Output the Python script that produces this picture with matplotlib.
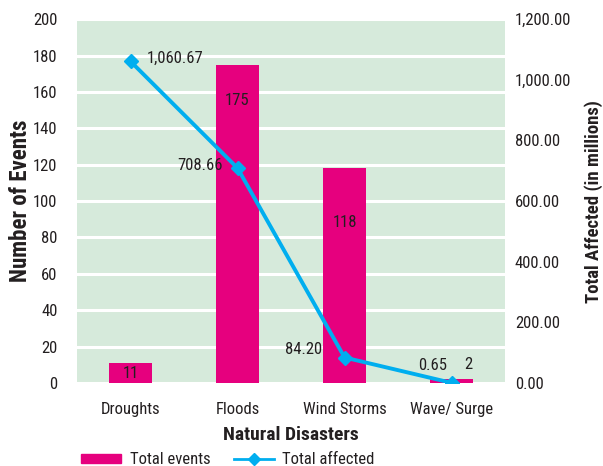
import matplotlib
matplotlib.use("Agg")
import matplotlib.pyplot as plt
from matplotlib.lines import Line2D
from matplotlib.patches import Patch
import matplotlib.font_manager as fm

names = {f.name for f in fm.fontManager.ttflist}
fam = "Roboto"
for cand in ["Roboto Condensed", "Open Sans Condensed", "Liberation Sans Narrow", "Roboto"]:
    if cand in names:
        fam = cand
        break
plt.rcParams['font.family'] = [fam, 'DejaVu Sans']

categories = ["Droughts", "Floods", "Wind Storms", "Wave/ Surge"]
total_events = [11, 175, 118, 2]
total_affected = [1060.67, 708.66, 84.20, 0.65]
left_ticks = list(range(0, 201, 20))
right_ticks = [0, 200, 400, 600, 800, 1000, 1200]

bar_color = "#e6007e"
line_color = "#00aeef"
bg = "#d6eadb"
txt = "#231f20"

fig = plt.figure(figsize=(6.03, 4.66), dpi=100)
ax = fig.add_axes([0.1277, 0.178, 0.71, 0.781])
ax.set_facecolor(bg)
x = [i + 0.5 for i in range(len(categories))]
ax.set_xlim(0, 4)
ax.set_ylim(0, 200)
ax.set_yticks(left_ticks)
ax.grid(axis='y', color='white', linewidth=2.2)
ax.set_axisbelow(True)
ax.bar(x, total_events, width=0.4, color=bar_color, zorder=2)
for s in ax.spines.values():
    s.set_visible(False)
ax.tick_params(length=0, labelsize=12, colors=txt, pad=14)
ax.tick_params(axis='x', pad=14)
ax.set_xticks(x)
ax.set_xticklabels(categories)
ax.set_ylabel("Number of Events", fontsize=16.5, fontweight='bold', color=txt, labelpad=1)
ax.set_xlabel("Natural Disasters", fontsize=14, fontweight='bold', color=txt, labelpad=6)

# bar labels
ax.text(x[0], total_events[0] / 2, "11", ha='center', va='center', fontsize=12, color=txt, zorder=5)
ax.text(x[1], total_events[1] - 19.5, "175", ha='center', va='center', fontsize=12, color=txt, zorder=5)
ax.text(x[2], total_events[2] - 29.5, "118", ha='center', va='center', fontsize=12, color=txt, zorder=5)
ax.text(x[3] + 0.12, 10, "2", ha='left', va='center', fontsize=12, color=txt, zorder=5)

ax2 = ax.twinx()
ax2.set_ylim(0, 1200)
ax2.set_yticks(right_ticks)
ax2.set_yticklabels([f"{v:,.2f}" for v in right_ticks])
for s in ax2.spines.values():
    s.set_visible(False)
ax2.tick_params(length=0, labelsize=12, colors=txt, pad=7)
ax2.plot(x, total_affected, color=line_color, linewidth=2.8, marker='D', markersize=7.5, zorder=3)
ax2.set_ylabel("Total Affected (in millions)", fontsize=13.5, fontweight='bold', color=txt, labelpad=9)

ax2.text(x[0] + 0.15, total_affected[0] + 10, "1,060.67", ha='left', va='center', fontsize=12, color=txt)
ax2.text(x[1] - 0.14, total_affected[1] + 10, "708.66", ha='right', va='center', fontsize=12, color=txt)
ax2.text(x[2] - 0.21, total_affected[2] + 25, "84.20", ha='right', va='center', fontsize=12, color=txt)
ax2.text(x[3] - 0.04, 59, "0.65", ha='right', va='center', fontsize=12, color=txt)

handles = [Patch(color=bar_color), Line2D([0], [0], color=line_color, lw=2, marker='D', markersize=6)]
fig.legend(handles, ["Total events", "Total affected"], loc='lower left', bbox_to_anchor=(0.11, -0.035),
           ncol=2, frameon=False, fontsize=12, handlelength=2.4, handleheight=0.5, columnspacing=1.4,
           handletextpad=0.5, labelcolor=txt)

fig.savefig("out.png", dpi=100, facecolor='white')
